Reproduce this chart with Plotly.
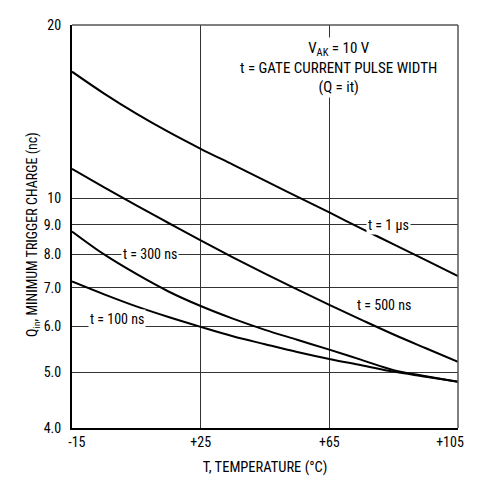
import math
import plotly.graph_objects as go

# temperature points (deg C) and trigger charge (nC)
temps = [-15, -5, 5, 15, 25, 35, 45, 55, 65, 75, 85, 95, 105]
q_1us = [16.6, 15.21, 14.04, 13.05, 12.2, 11.45, 10.74, 10.08, 9.46, 8.87, 8.33, 7.82, 7.34]
q_500ns = [11.26, 10.46, 9.73, 9.07, 8.46, 7.91, 7.41, 6.96, 6.54, 6.16, 5.81, 5.50, 5.21]
q_300ns = [8.77, 8.0, 7.40, 6.90, 6.51, 6.19, 5.92, 5.69, 5.47, 5.25, 5.04, 4.92, 4.81]
q_100ns = [7.18, 6.82, 6.50, 6.23, 5.99, 5.77, 5.59, 5.42, 5.27, 5.14, 5.01, 4.91, 4.81]

x_ticks = [-15, 25, 65, 105]
# end labels sit a little inside the frame, as in the datasheet
x_ticktext = ['\u00a0\u00a0\u00a0-15', '+25', '+65', '+105\u00a0\u00a0\u00a0\u00a0\u00a0']
y_ticks = [4, 5, 6, 7, 8, 9, 10, 20]
y_ticktext = ['4.0', '5.0', '6.0', '7.0', '8.0', '9.0', '10', '20']

FONT = 'Liberation Sans Narrow, Arial Narrow, Roboto Condensed, Liberation Sans, sans-serif'

fig = go.Figure()
for q in [q_1us, q_500ns, q_300ns, q_100ns]:
    fig.add_trace(go.Scatter(x=temps, y=q, mode='lines',
                             line=dict(color='black', width=2, shape='spline'),
                             showlegend=False, hoverinfo='skip'))

# curve labels (white box breaks the grid line like in the datasheet)
labels = [
    ('t = 1 \u00b5s', 83.5, 9.0, 0, 'white'),
    ('t = 300 ns', 9.4, 8.0, 0, 'white'),
    ('t = 100 ns', -1.0, 6.0, 7, 'white'),
    ('t = 500 ns', 82.1, 6.54, 0, 'rgba(0,0,0,0)'),
]
for txt, xv, yv, ys, bg in labels:
    fig.add_annotation(x=xv, y=math.log10(yv), text=txt, showarrow=False,
                       yshift=ys, bgcolor=bg, borderpad=1,
                       font=dict(family=FONT, size=14, color='black'))

fig.add_annotation(x=67.8, y=math.log10(16.9),
                   text='V<sub>AK</sub> = 10 V<br>t = GATE CURRENT PULSE WIDTH<br>(Q = it)',
                   showarrow=False, bgcolor='white', borderpad=1, align='center',
                   font=dict(family=FONT, size=15, color='black'))

# y axis title
fig.add_annotation(xref='paper', yref='paper', x=-0.101, y=0.479, textangle=-90,
                   xanchor='center', yanchor='middle',
                   text='Q<sub>in</sub>, MINIMUM TRIGGER CHARGE (nc)', showarrow=False,
                   font=dict(family=FONT, size=14, color='black'))

# top and right frame lines are lighter than the axes
fig.add_shape(type='line', xref='x domain', yref='y domain', x0=0, x1=1, y0=1, y1=1,
              line=dict(color='#555555', width=1.5))
fig.add_shape(type='line', xref='x domain', yref='y domain', x0=1, x1=1, y0=0, y1=1,
              line=dict(color='#555555', width=1.5))

fig.update_xaxes(range=[-15, 105], tickvals=x_ticks, ticktext=x_ticktext,
                 showgrid=True, gridcolor='#333333', gridwidth=1, automargin=False,
                 showline=True, linecolor='black', linewidth=2, zeroline=False,
                 ticks='', ticklabeloverflow='allow',
                 tickfont=dict(family=FONT, size=14, color='black'),
                 title=dict(text='T, TEMPERATURE (\u00b0C)', standoff=13,
                            font=dict(family=FONT, size=14.5, color='black')))
fig.update_yaxes(type='log', range=[0.60206, 1.30103], tickvals=y_ticks, ticktext=y_ticktext,
                 showgrid=True, gridcolor='#333333', gridwidth=1, automargin=False,
                 showline=True, linecolor='black', linewidth=2, zeroline=False,
                 ticks='', ticklabelstandoff=6,
                 tickfont=dict(family=FONT, size=14, color='black'))

# page body adds ~8px around the figure, so keep the page inside the window
fig.update_layout(width=470, height=471, margin=dict(l=64, r=20, t=17, b=51),
                  plot_bgcolor='white', paper_bgcolor='white')

fig.write_html("out.html")
